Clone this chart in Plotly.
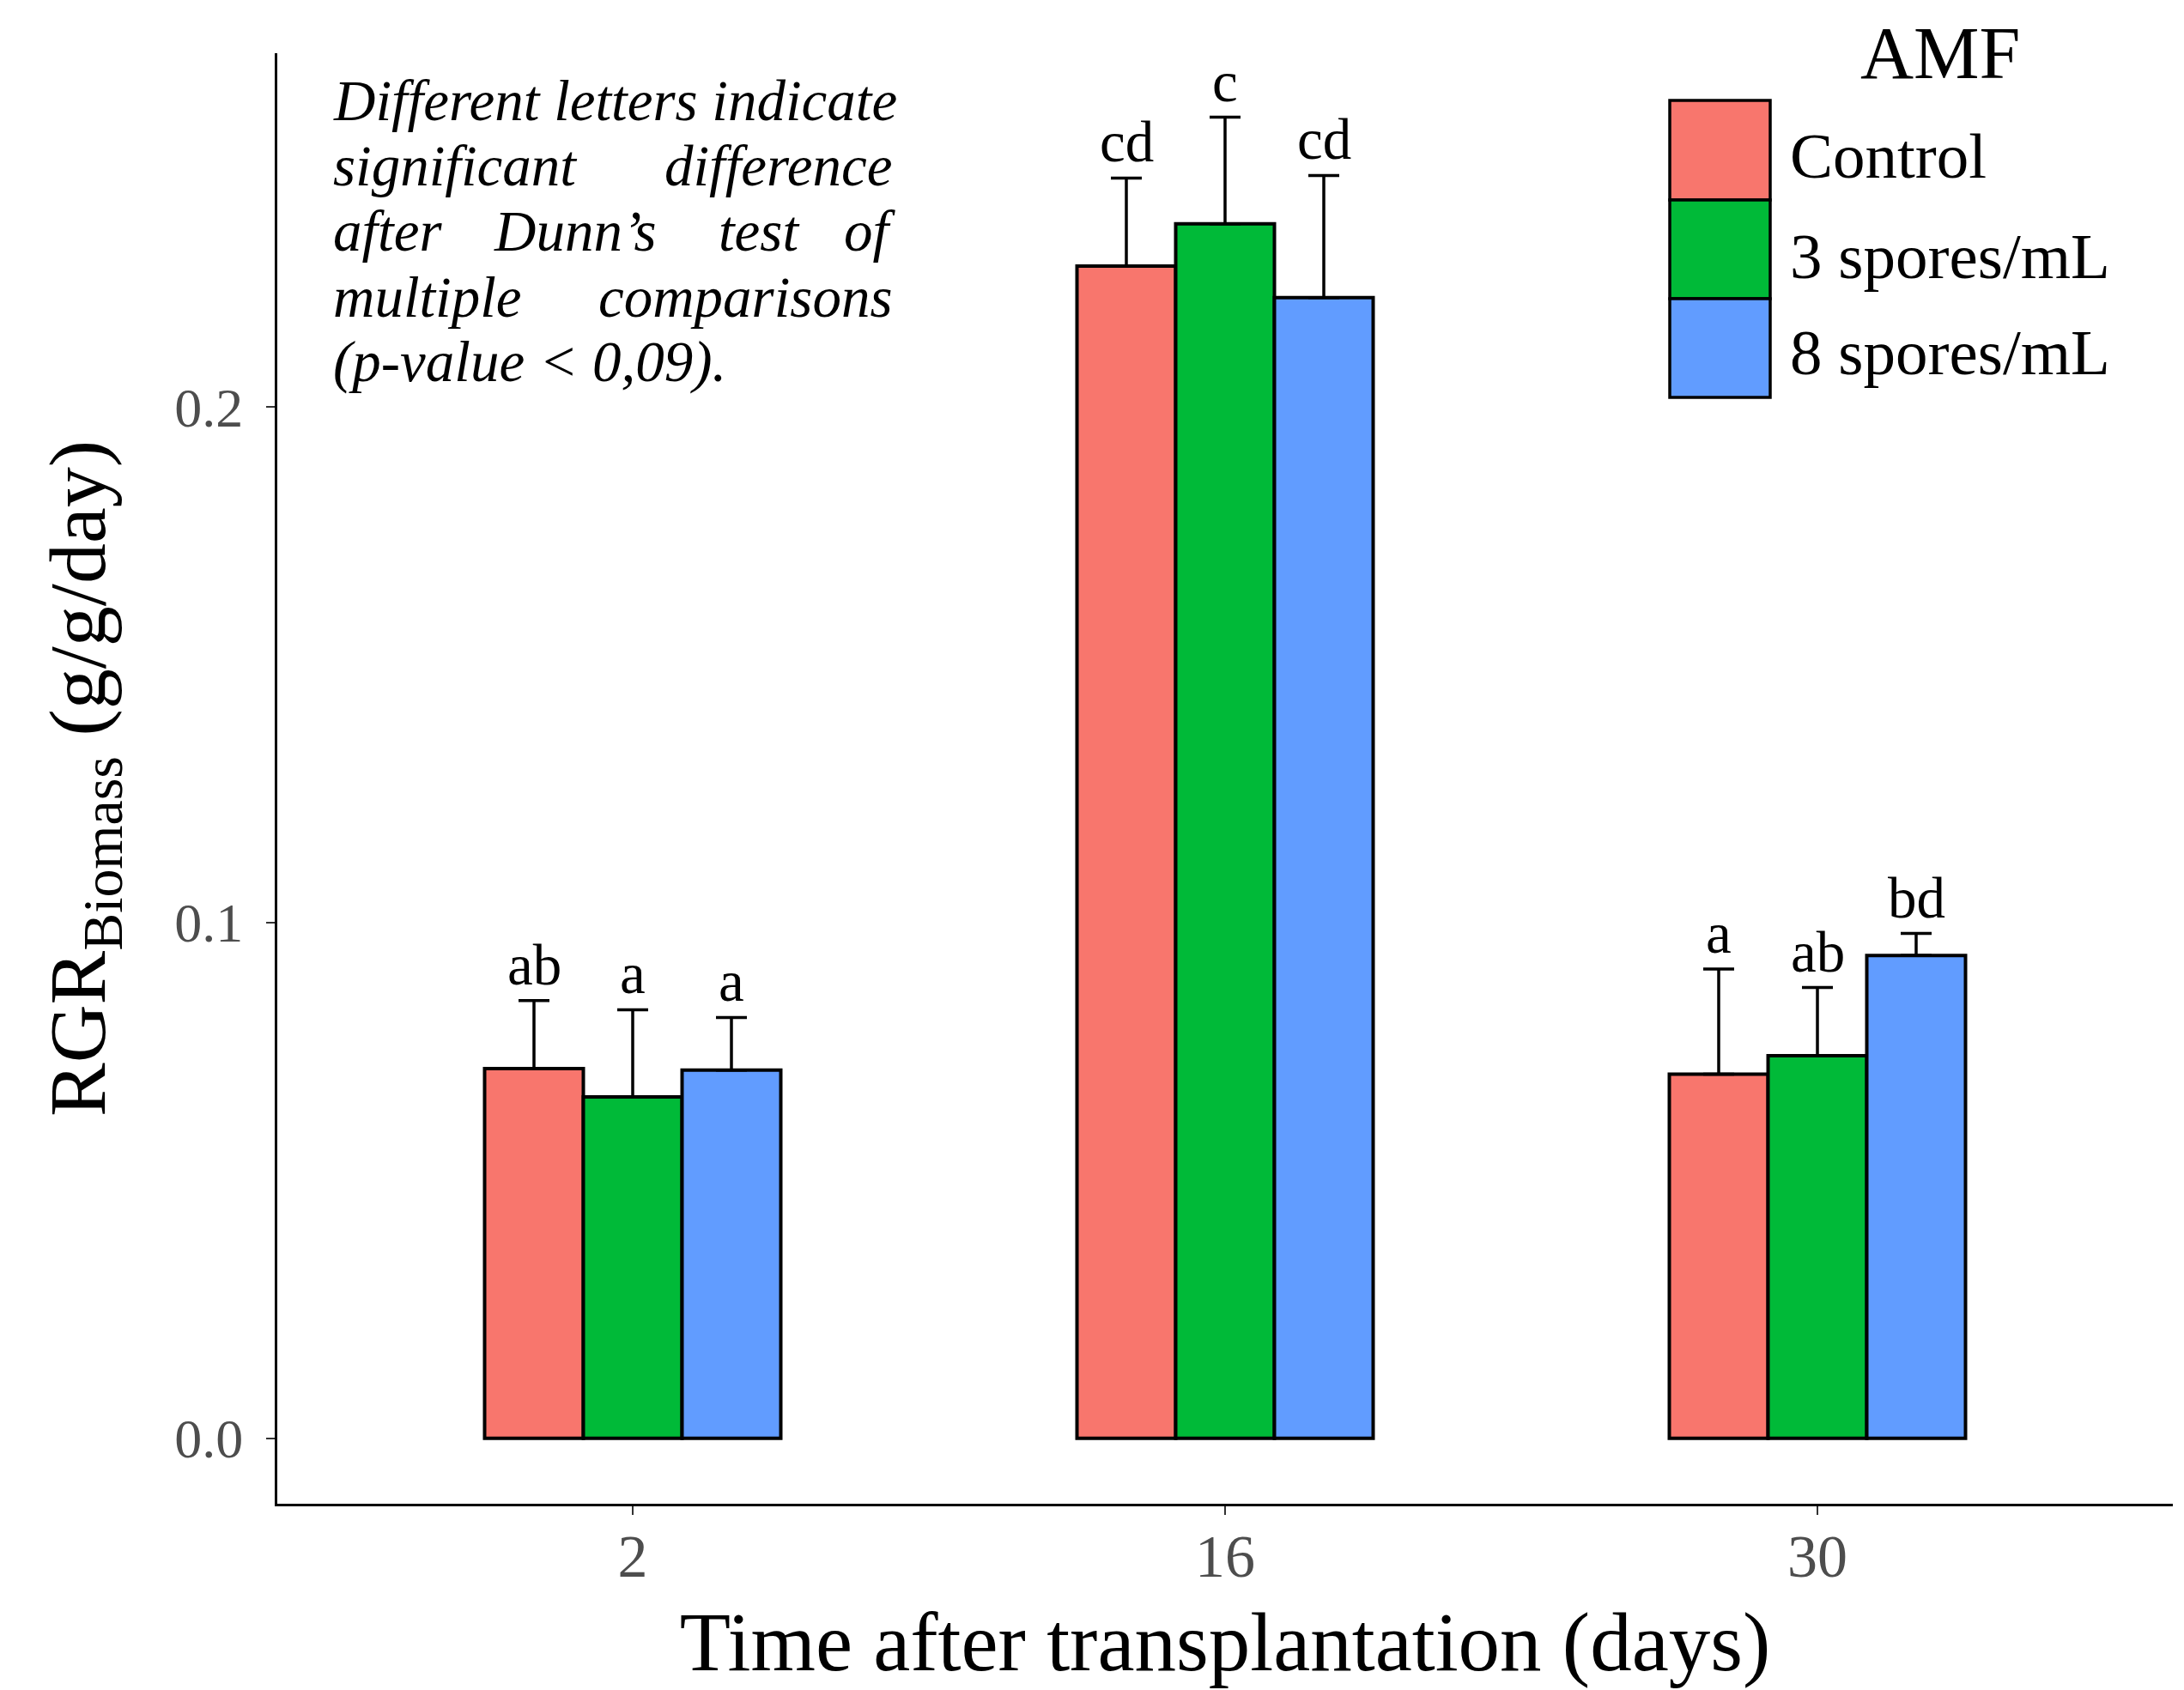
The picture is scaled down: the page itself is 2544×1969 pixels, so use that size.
import plotly.graph_objects as go

# ---------------- data ----------------
days = ["2", "16", "30"]
treatments = ["Control", "3 spores/mL", "8 spores/mL"]
colors = ["#F8766D", "#00BA38", "#619CFF"]

control_mean = [0.0717, 0.2273, 0.0706]
spores3_mean = [0.0662, 0.2355, 0.0742]
spores8_mean = [0.0714, 0.2212, 0.0936]

control_err = [0.0132, 0.0171, 0.0204]
spores3_err = [0.0169, 0.0207, 0.0132]
spores8_err = [0.0102, 0.0237, 0.0043]

control_letters = ["ab", "cd", "a"]
spores3_letters = ["a", "c", "ab"]
spores8_letters = ["a", "cd", "bd"]

y_tickvals = [0.0, 0.1, 0.2]
y_ticktext = ["0.0", "0.1", "0.2"]

x_title = "Time after transplantation (days)"
y_title = "RGR<sub>Biomass</sub> (g/g/day)"
legend_title = "AMF"

# justified note: each line as list of (word, anchor, page-x)
note_lines = [
    [("Different letters indicate", "left", 386)],
    [("significant", "left", 386), ("difference", "right", 1041)],
    [("after", "left", 386), ("Dunn\u2019s", "center", 670), ("test", "center", 884), ("of", "right", 1046)],
    [("multiple", "left", 386), ("comparisons", "right", 1041)],
    [("(p-value < 0,09).", "left", 386)],
]
note_line_y = [117, 193, 269, 346, 422]

# ---------------- layout geometry (page px) ----------------
W, H = 2544, 1969
PL, PR, PT, PB = 323, 2531, 62, 1752   # plot area edges


def px(x):
    return (x - PL) / (PR - PL)


def py(y):
    return (PB - y) / (PB - PT)


SERIF = "Liberation Serif, Times New Roman, serif"

means = [control_mean, spores3_mean, spores8_mean]
errs = [control_err, spores3_err, spores8_err]
letters = [control_letters, spores3_letters, spores8_letters]

fig = go.Figure()
for name, m, e, c in zip(treatments, means, errs, colors):
    fig.add_trace(go.Bar(
        x=days, y=m, name=name,
        marker=dict(color=c, line=dict(color="black", width=4)),
        error_y=dict(type="data", array=e, arrayminus=[0] * len(e), symmetric=False,
                     color="black", thickness=3.5, width=18),
        showlegend=False,
    ))

bargap = 0.5
annotations = []
n = len(treatments)
for j in range(n):
    for i in range(len(days)):
        offset = (j - (n - 1) / 2) * (1 - bargap) / n
        annotations.append(dict(
            x=i + offset, y=means[j][i] + errs[j][i], xref="x", yref="y",
            text=letters[j][i], showarrow=False, yanchor="bottom", xanchor="center",
            yshift=3, font=dict(family=SERIF, size=67, color="black"),
        ))

# note text
for line, yc in zip(note_lines, note_line_y):
    for word, anchor, xp in line:
        annotations.append(dict(
            x=px(xp), y=py(yc), xref="paper", yref="paper", text="<i>" + word + "</i>",
            showarrow=False, xanchor=anchor, yanchor="middle",
            font=dict(family=SERIF, size=67, color="black"),
        ))

# custom legend
key_x0, key_x1 = 1945, 2062
key_edges = [117, 233, 348, 463]
text_y = [181, 298, 410]
shapes = []
for k, (name, c) in enumerate(zip(treatments, colors)):
    shapes.append(dict(type="rect", xref="paper", yref="paper",
                       x0=px(key_x0), x1=px(key_x1), y0=py(key_edges[k + 1]), y1=py(key_edges[k]),
                       fillcolor=c, line=dict(color="black", width=3.5), layer="above"))
    annotations.append(dict(x=px(2083), y=py(text_y[k]), xref="paper", yref="paper", text=name,
                            showarrow=False, xanchor="left", yanchor="middle",
                            font=dict(family=SERIF, size=75, color="black")))
annotations.append(dict(x=px(2260), y=py(62), xref="paper", yref="paper", text=legend_title,
                        showarrow=False, xanchor="center", yanchor="middle",
                        font=dict(family=SERIF, size=86, color="black")))

fig.update_layout(
    width=W, height=H,
    margin=dict(l=PL, r=W - PR, t=PT, b=H - PB, autoexpand=False),
    paper_bgcolor="white", plot_bgcolor="white",
    barmode="group", bargap=bargap, bargroupgap=0,
    showlegend=False,
    annotations=annotations, shapes=shapes,
    font=dict(family=SERIF),
)
fig.update_xaxes(
    type="category", range=[-0.6, 2.6],
    showline=True, linecolor="black", linewidth=3, mirror=False,
    showgrid=False, zeroline=False,
    ticks="outside", ticklen=10, tickwidth=2, tickcolor="#333333",
    tickfont=dict(family=SERIF, size=70, color="#4D4D4D"),
    ticklabelstandoff=-12,
    title=dict(text=x_title, font=dict(family=SERIF, size=97, color="black"), standoff=28),
)
fig.update_yaxes(
    range=[-0.0127, 0.2686],
    tickvals=y_tickvals, ticktext=y_ticktext,
    showline=True, linecolor="black", linewidth=3, mirror=False,
    showgrid=False, zeroline=False,
    ticks="outside", ticklen=10, tickwidth=2, tickcolor="#333333",
    tickfont=dict(family=SERIF, size=64, color="#4D4D4D"),
    ticklabelstandoff=14,
    title=dict(text=y_title, font=dict(family=SERIF, size=94, color="black"), standoff=50),
)

fig.write_html("out.html", config={"displayModeBar": False},
               post_script="document.body.style.margin='0';document.body.style.overflow='hidden';")
